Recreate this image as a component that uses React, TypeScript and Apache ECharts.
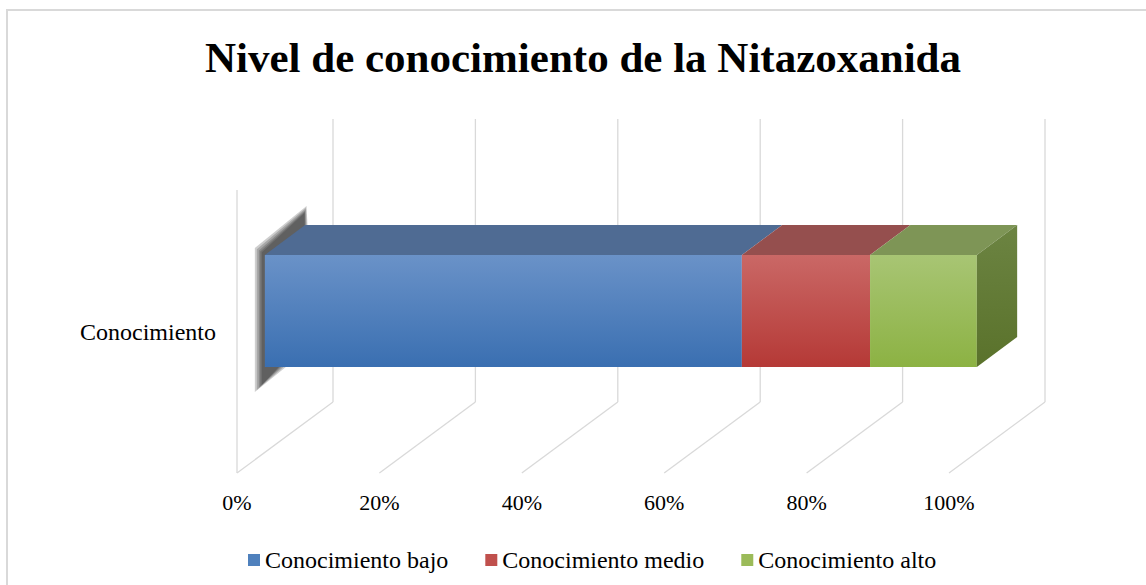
import React, { useEffect, useRef } from "react";
import * as echarts from "echarts";

const titleText = "Nivel de conocimiento de la Nitazoxanida";
const categories = ["Conocimiento"];
const seriesNames = ["Conocimiento bajo", "Conocimiento medio", "Conocimiento alto"];
const seriesValues = [67, 18, 15];
const tickValues = [0, 20, 40, 60, 80, 100];

const FONT = "Liberation Serif, Times New Roman, serif";
const DX = 96;
const DY = -71;
const FRONT = 0.29;
const BACK = 0.71;
const HALF = 0.198;

const palettes = [
  { top: "#4F6B93", g0: "#6A92C8", g1: "#3A6FB1", legend: "#4F81BD" },
  { top: "#954F4E", g0: "#CA6866", g1: "#B53936", legend: "#C0504D" },
  { top: "#7E9556", g0: "#A8C574", g1: "#8CB243", legend: "#9BBB59", side0: "#6C8442", side1: "#5A722B" },
];

export default function App() {
  const ref = useRef<HTMLDivElement>(null);
  useEffect(() => {
    const chart = echarts.init(ref.current!, null, { renderer: "svg" });
    let acc = 0;
    const stacks = seriesValues.map((v) => {
      const s = acc;
      acc += v;
      return [s, acc, 0];
    });
    const last = seriesValues.length - 1;

    const barSeries = seriesNames.map((name, i) => ({
      type: "custom",
      name,
      coordinateSystem: "cartesian2d",
      encode: { x: [0, 1], y: 2 },
      data: [stacks[i]],
      z: 3,
      itemStyle: { color: palettes[i].legend },
      renderItem: (params: any, api: any) => {
        const s = api.value(0);
        const e = api.value(1);
        const c = api.value(2);
        const p0 = api.coord([s, c]);
        const p1 = api.coord([e, c]);
        const band = api.size([0, 1])[1];
        const h = band * HALF;
        const fx = FRONT * DX, fy = FRONT * DY, bx = BACK * DX, by = BACK * DY;
        const FTL = [p0[0] + fx, p0[1] + fy - h];
        const FTR = [p1[0] + fx, p1[1] + fy - h];
        const FBR = [p1[0] + fx, p1[1] + fy + h];
        const FBL = [p0[0] + fx, p0[1] + fy + h];
        const BTL = [p0[0] + bx, p0[1] + by - h];
        const BTR = [p1[0] + bx, p1[1] + by - h];
        const BBR = [p1[0] + bx, p1[1] + by + h];
        const BBL = [p0[0] + bx, p0[1] + by + h];
        const pal = palettes[i];
        const children: any[] = [];
        if (i === 0) {
          const layers = [8, 6, 4, 2.5, 1];
          layers.forEach((k) => {
            children.push({
              type: "polygon",
              shape: {
                points: [
                  [FTL[0] - 2 - k, FTL[1] - 2 - k * 0.6],
                  [BTL[0] - 1 + k * 0.3, BTL[1] - 11 - k],
                  [BTL[0] + k, BBL[1] + k],
                  [FBL[0] - 2 - k, FBL[1] + 17 + k],
                ],
              },
              style: { fill: "rgba(30,30,30,0.22)" },
            });
          });
        }
        children.push({
          type: "polygon",
          shape: { points: [FTL, BTL, BTR, FTR] },
          style: { fill: pal.top },
        });
        children.push({
          type: "polygon",
          shape: { points: [FTL, FTR, FBR, FBL] },
          style: {
            fill: new echarts.graphic.LinearGradient(0, 0, 0, 1, [
              { offset: 0, color: pal.g0 },
              { offset: 1, color: pal.g1 },
            ]),
          },
        });
        if (i === last) {
          children.push({
            type: "polygon",
            shape: { points: [FTR, BTR, BBR, FBR] },
            style: {
              fill: new echarts.graphic.LinearGradient(0, 0, 0, 1, [
                { offset: 0, color: (pal as any).side0 },
                { offset: 1, color: (pal as any).side1 },
              ]),
            },
          });
        }
        return { type: "group", children };
      },
    }));

    const gridSeries = {
      type: "custom",
      name: "grid3d",
      coordinateSystem: "cartesian2d",
      encode: { x: 0, y: 1 },
      data: tickValues.map((t) => [t, 0]),
      z: 1,
      silent: true,
      renderItem: (params: any, api: any) => {
        const t = api.value(0);
        const p = api.coord([t, 0]);
        const cs = params.coordSys;
        const top = cs.y;
        const bottom = cs.y + cs.height;
        const lineStyle = { stroke: "#D9D9D9", lineWidth: 1.3 };
        const children: any[] = [
          {
            type: "line",
            shape: { x1: p[0] + DX, y1: top + DY, x2: p[0] + DX, y2: bottom + DY },
            style: lineStyle,
          },
          {
            type: "line",
            shape: { x1: p[0], y1: bottom, x2: p[0] + DX, y2: bottom + DY },
            style: lineStyle,
          },
        ];
        if (t === tickValues[0]) {
          children.push({
            type: "line",
            shape: { x1: p[0], y1: top, x2: p[0], y2: bottom },
            style: lineStyle,
          });
        }
        return { type: "group", children };
      },
    };

    chart.setOption({
      animation: false,
      backgroundColor: "#ffffff",
      textStyle: { fontFamily: FONT },
      graphic: [
        {
          type: "rect",
          shape: { x: 7, y: 10, width: 1200, height: 620 },
          style: { fill: "none", stroke: "#D9D9D9", lineWidth: 2 },
          silent: true,
          z: 0,
        },
        {
          type: "text",
          x: 583,
          y: 57,
          style: {
            text: titleText,
            textAlign: "center",
            textVerticalAlign: "middle",
            fontFamily: FONT,
            fontSize: 43,
            fontWeight: "bold",
            fill: "#000000",
          },
        },
      ],
      legend: {
        data: seriesNames,
        left: 243,
        top: 543,
        itemWidth: 12,
        itemHeight: 12,
        itemGap: 37,
        icon: "rect",
        textStyle: { fontFamily: FONT, fontSize: 24, color: "#000000" },
      },
      grid: { left: 237, right: 197, top: 190, bottom: 112, containLabel: false },
      xAxis: {
        type: "value",
        min: 0,
        max: 100,
        interval: 20,
        axisLine: { show: false },
        axisTick: { show: false },
        splitLine: { show: false },
        axisLabel: {
          formatter: "{value}%",
          fontFamily: FONT,
          fontSize: 22,
          color: "#000000",
          margin: 18,
        },
      },
      yAxis: {
        type: "category",
        data: categories,
        axisLine: { show: false },
        axisTick: { show: false },
        splitLine: { show: false },
        axisLabel: {
          fontFamily: FONT,
          fontSize: 24,
          color: "#000000",
          margin: 21,
        },
      },
      series: [gridSeries, ...barSeries],
    });
    return () => chart.dispose();
  }, []);
  return (
    <div
      ref={ref}
      style={{ position: "absolute", left: 0, top: 0, width: 1146, height: 585, background: "#fff" }}
    />
  );
}
